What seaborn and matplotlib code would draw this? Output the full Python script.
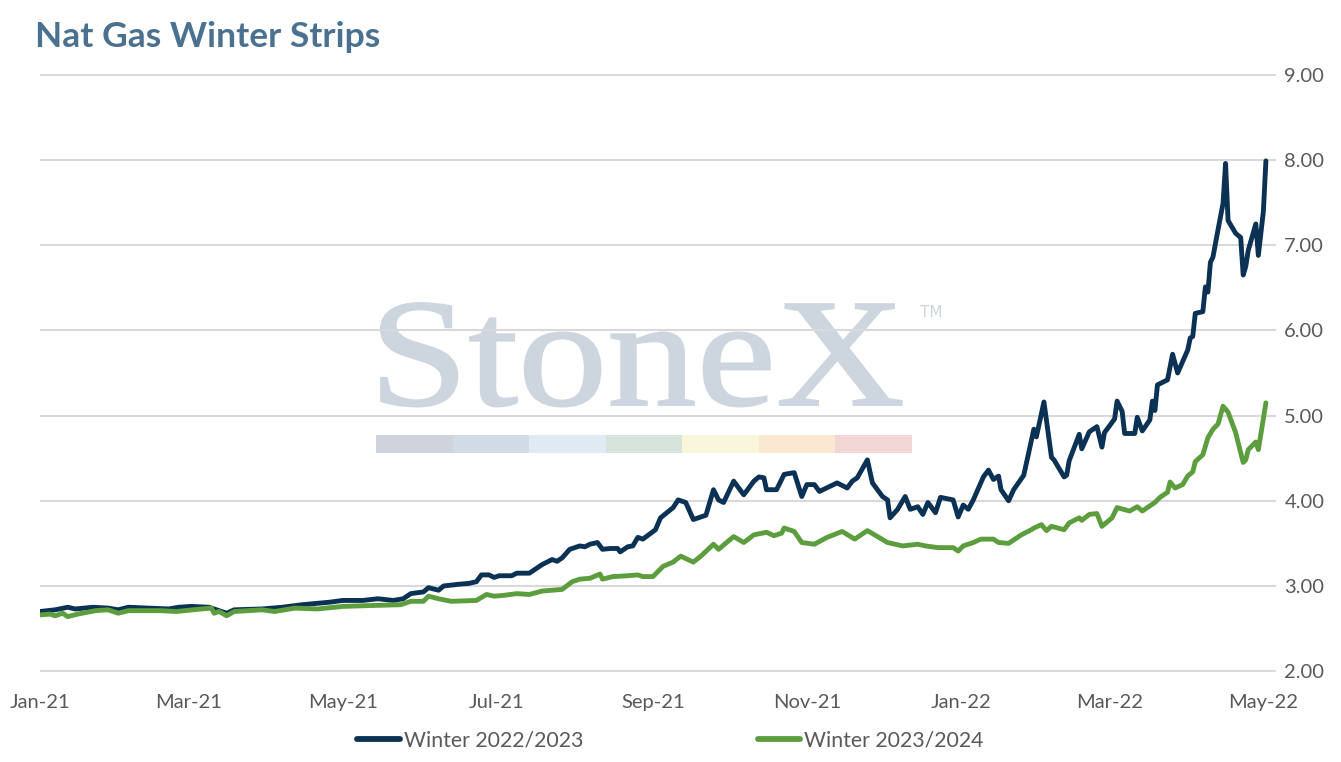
import pandas as pd
import matplotlib
matplotlib.use("Agg")
import matplotlib.pyplot as plt
import matplotlib.dates as mdates
from matplotlib.patches import Rectangle, PathPatch
from matplotlib.lines import Line2D
from matplotlib.textpath import TextPath
from matplotlib.font_manager import FontProperties
from matplotlib.transforms import Affine2D, IdentityTransform
import seaborn as sns

# Winter 2022/2023 strip
w2223_dates = [
    "2021-01-01", "2021-01-07", "2021-01-12", "2021-01-15", "2021-01-22", "2021-01-28", "2021-02-01", "2021-02-05", "2021-02-21", "2021-02-25",
    "2021-03-02", "2021-03-09", "2021-03-16", "2021-03-19", "2021-03-30", "2021-04-07", "2021-04-15", "2021-04-26", "2021-05-01", "2021-05-09",
    "2021-05-15", "2021-05-21", "2021-05-25", "2021-05-28", "2021-06-02", "2021-06-04", "2021-06-08", "2021-06-10", "2021-06-16", "2021-06-20",
    "2021-06-23", "2021-06-25", "2021-06-28", "2021-06-30", "2021-07-02", "2021-07-07", "2021-07-09", "2021-07-14", "2021-07-16", "2021-07-19",
    "2021-07-23", "2021-07-25", "2021-07-27", "2021-07-30", "2021-08-03", "2021-08-05", "2021-08-07", "2021-08-10", "2021-08-12", "2021-08-15",
    "2021-08-18", "2021-08-19", "2021-08-22", "2021-08-24", "2021-08-26", "2021-08-28", "2021-09-02", "2021-09-04", "2021-09-09", "2021-09-11",
    "2021-09-14", "2021-09-17", "2021-09-22", "2021-09-25", "2021-09-27", "2021-09-29", "2021-10-03", "2021-10-07", "2021-10-11", "2021-10-13",
    "2021-10-15", "2021-10-16", "2021-10-20", "2021-10-23", "2021-10-27", "2021-10-30", "2021-11-01", "2021-11-04", "2021-11-06", "2021-11-13",
    "2021-11-17", "2021-11-19", "2021-11-21", "2021-11-25", "2021-11-27", "2021-12-01", "2021-12-03", "2021-12-04", "2021-12-07", "2021-12-10",
    "2021-12-12", "2021-12-15", "2021-12-17", "2021-12-19", "2021-12-22", "2021-12-24", "2021-12-29", "2021-12-31", "2022-01-02", "2022-01-04",
    "2022-01-06", "2022-01-10", "2022-01-12", "2022-01-14", "2022-01-16", "2022-01-17", "2022-01-20", "2022-01-22", "2022-01-26", "2022-01-30",
    "2022-01-31", "2022-02-03", "2022-02-06", "2022-02-07", "2022-02-11", "2022-02-12", "2022-02-13", "2022-02-17", "2022-02-18", "2022-02-21",
    "2022-02-24", "2022-02-26", "2022-02-27", "2022-03-03", "2022-03-04", "2022-03-06", "2022-03-07", "2022-03-11", "2022-03-12", "2022-03-14",
    "2022-03-17", "2022-03-18", "2022-03-19", "2022-03-20", "2022-03-24", "2022-03-26", "2022-03-28", "2022-04-01", "2022-04-02", "2022-04-03",
    "2022-04-04", "2022-04-07", "2022-04-08", "2022-04-09", "2022-04-10", "2022-04-11", "2022-04-13", "2022-04-15", "2022-04-16", "2022-04-17",
    "2022-04-20", "2022-04-22", "2022-04-23", "2022-04-24", "2022-04-25", "2022-04-28", "2022-04-29", "2022-05-01", "2022-05-02",
]
w2223_values = [
    2.70, 2.72, 2.75, 2.73, 2.75, 2.74, 2.72, 2.75, 2.73, 2.75,
    2.76, 2.75, 2.68, 2.72, 2.73, 2.75, 2.78, 2.81, 2.83, 2.83,
    2.85, 2.83, 2.85, 2.91, 2.93, 2.98, 2.95, 3.00, 3.02, 3.03,
    3.05, 3.13, 3.13, 3.10, 3.12, 3.12, 3.15, 3.15, 3.19, 3.25,
    3.31, 3.29, 3.33, 3.43, 3.47, 3.46, 3.49, 3.51, 3.43, 3.44,
    3.44, 3.40, 3.46, 3.47, 3.57, 3.55, 3.66, 3.80, 3.92, 4.01,
    3.98, 3.78, 3.83, 4.13, 4.01, 3.98, 4.23, 4.07, 4.23, 4.28,
    4.27, 4.13, 4.13, 4.31, 4.33, 4.05, 4.19, 4.19, 4.11, 4.21,
    4.15, 4.23, 4.27, 4.48, 4.21, 4.05, 4.01, 3.80, 3.90, 4.05,
    3.90, 3.93, 3.84, 3.98, 3.86, 4.04, 4.01, 3.81, 3.95, 3.90,
    4.01, 4.28, 4.36, 4.25, 4.29, 4.13, 4.00, 4.13, 4.30, 4.84,
    4.75, 5.16, 4.51, 4.48, 4.28, 4.30, 4.47, 4.78, 4.61, 4.81,
    4.87, 4.63, 4.80, 4.96, 5.17, 5.05, 4.79, 4.79, 4.98, 4.82,
    4.95, 5.17, 5.06, 5.36, 5.42, 5.72, 5.50, 5.77, 5.91, 5.93,
    6.20, 6.22, 6.51, 6.45, 6.80, 6.86, 7.18, 7.49, 7.96, 7.29,
    7.14, 7.09, 6.65, 6.75, 6.94, 7.25, 6.88, 7.40, 7.99,
]

# Winter 2023/2024 strip
w2324_dates = [
    "2021-01-01", "2021-01-05", "2021-01-07", "2021-01-10", "2021-01-12", "2021-01-16", "2021-01-23", "2021-01-28", "2021-02-01", "2021-02-05",
    "2021-02-18", "2021-02-24", "2021-03-06", "2021-03-10", "2021-03-11", "2021-03-13", "2021-03-16", "2021-03-19", "2021-03-30", "2021-04-04",
    "2021-04-12", "2021-04-21", "2021-05-01", "2021-05-12", "2021-05-24", "2021-05-28", "2021-06-02", "2021-06-04", "2021-06-08", "2021-06-13",
    "2021-06-23", "2021-06-27", "2021-06-30", "2021-07-04", "2021-07-09", "2021-07-14", "2021-07-19", "2021-07-27", "2021-07-31", "2021-08-03",
    "2021-08-07", "2021-08-11", "2021-08-12", "2021-08-16", "2021-08-22", "2021-08-26", "2021-08-28", "2021-09-01", "2021-09-05", "2021-09-09",
    "2021-09-12", "2021-09-17", "2021-09-20", "2021-09-25", "2021-09-27", "2021-10-03", "2021-10-07", "2021-10-11", "2021-10-16", "2021-10-19",
    "2021-10-22", "2021-10-23", "2021-10-27", "2021-10-30", "2021-11-04", "2021-11-09", "2021-11-15", "2021-11-20", "2021-11-25", "2021-11-29",
    "2021-12-03", "2021-12-09", "2021-12-15", "2021-12-18", "2021-12-23", "2021-12-29", "2021-12-31", "2022-01-02", "2022-01-06", "2022-01-09",
    "2022-01-14", "2022-01-16", "2022-01-20", "2022-01-25", "2022-01-29", "2022-01-30", "2022-02-02", "2022-02-04", "2022-02-06", "2022-02-11",
    "2022-02-13", "2022-02-17", "2022-02-18", "2022-02-21", "2022-02-24", "2022-02-26", "2022-03-02", "2022-03-04", "2022-03-09", "2022-03-12",
    "2022-03-14", "2022-03-16", "2022-03-19", "2022-03-21", "2022-03-24", "2022-03-25", "2022-03-27", "2022-03-30", "2022-04-01", "2022-04-03",
    "2022-04-04", "2022-04-07", "2022-04-08", "2022-04-09", "2022-04-11", "2022-04-13", "2022-04-15", "2022-04-17", "2022-04-20", "2022-04-21",
    "2022-04-23", "2022-04-24", "2022-04-25", "2022-04-28", "2022-04-29", "2022-05-02",
]
w2324_values = [
    2.66, 2.67, 2.65, 2.68, 2.64, 2.67, 2.71, 2.72, 2.68, 2.71,
    2.71, 2.70, 2.73, 2.74, 2.68, 2.70, 2.65, 2.70, 2.72, 2.70,
    2.74, 2.73, 2.76, 2.77, 2.78, 2.82, 2.82, 2.88, 2.85, 2.82,
    2.83, 2.90, 2.88, 2.89, 2.91, 2.90, 2.94, 2.96, 3.05, 3.08,
    3.09, 3.14, 3.08, 3.11, 3.12, 3.13, 3.11, 3.11, 3.23, 3.28,
    3.35, 3.28, 3.35, 3.49, 3.43, 3.58, 3.51, 3.60, 3.63, 3.59,
    3.62, 3.68, 3.64, 3.51, 3.49, 3.57, 3.64, 3.55, 3.65, 3.58,
    3.51, 3.47, 3.49, 3.47, 3.45, 3.45, 3.41, 3.47, 3.51, 3.55,
    3.55, 3.51, 3.50, 3.60, 3.66, 3.68, 3.72, 3.65, 3.70, 3.66,
    3.74, 3.80, 3.77, 3.84, 3.85, 3.70, 3.80, 3.92, 3.88, 3.93,
    3.88, 3.92, 3.98, 4.04, 4.10, 4.22, 4.15, 4.19, 4.29, 4.34,
    4.46, 4.54, 4.64, 4.74, 4.84, 4.90, 5.11, 5.04, 4.80, 4.68,
    4.45, 4.48, 4.60, 4.69, 4.60, 5.15,
]

series_names = ["Winter 2022/2023", "Winter 2023/2024"]
series_colors = ["#0b3254", "#5c9e3d"]
y_ticks = [2, 3, 4, 5, 6, 7, 8, 9]
band_colors = ["#cfd4dc", "#d1dbe7", "#dfeaf3", "#d5e3da", "#f9f6dc", "#fae8d0", "#f2d6d6"]

df = pd.concat([
    pd.DataFrame({"date": pd.to_datetime(w2223_dates), "value": w2223_values, "series": series_names[0]}),
    pd.DataFrame({"date": pd.to_datetime(w2324_dates), "value": w2324_values, "series": series_names[1]}),
])

sns.set_style("white")
plt.rcParams["font.family"] = ["Lato", "DejaVu Sans"]

fig = plt.figure(figsize=(13.41, 7.62), dpi=100)
ax = fig.add_axes([40 / 1341, 1 - 672 / 762, 1236 / 1341, 598 / 762])
ax.patch.set_alpha(0)

# watermark: serif logo, stretched a little wider than the stock font
wm = "#cdd5df"
logo = TextPath((0, 0), "StoneX", size=154, prop=FontProperties(family="Liberation Serif"))
logo_tf = Affine2D().scale(1.16, 1.0).translate(369, 762 - 405) + IdentityTransform()
ax.add_artist(PathPatch(logo, transform=logo_tf, facecolor=wm, edgecolor=wm, linewidth=1.4, zorder=0.8))
ax.text(0.712, 0.613, "TM", transform=ax.transAxes, ha="left", va="top",
        fontsize=11, family="DejaVu Sans", color=wm, zorder=0.8)
seg_w = 0.4337 / len(band_colors)
for i, c in enumerate(band_colors):
    ax.add_patch(Rectangle((0.2718 + i * seg_w, 0.3662), seg_w, 0.0301, transform=ax.transAxes,
                           facecolor=c, edgecolor="none", zorder=0.8))

sns.lineplot(data=df, x="date", y="value", hue="series", palette=series_colors,
             linewidth=3.5, ax=ax, legend=False, zorder=3)

ax.set_ylim(1.99, 9.01)
ax.set_xlim(pd.Timestamp("2021-01-01"), pd.Timestamp("2022-05-06"))
ax.set_yticks(y_ticks)
ax.yaxis.set_major_formatter(matplotlib.ticker.FormatStrFormatter("%.2f"))
ax.yaxis.tick_right()
ax.xaxis.set_major_locator(mdates.MonthLocator(bymonth=[1, 3, 5, 7, 9, 11]))
ax.xaxis.set_major_formatter(mdates.DateFormatter("%b-%y"))
ax.grid(axis="y", color="#d9d9d9", linewidth=1.5)
ax.grid(axis="x", visible=False)
ax.set_axisbelow("line")
ax.set_xlabel("")
ax.set_ylabel("")
for s in ax.spines.values():
    s.set_visible(False)
ax.tick_params(axis="both", length=0, labelsize=14.5, labelcolor="#595959")
ax.tick_params(axis="x", pad=16)
ax.tick_params(axis="y", pad=6)

fig.text(35 / 1341, 1 - 47 / 762, "Nat Gas Winter Strips", fontsize=25.5, fontweight="bold",
         color="#4b7190", va="baseline", ha="left")

handles = [Line2D([0], [0], color=c, linewidth=4.2, solid_capstyle="round") for c in series_colors]
fig.legend(handles, series_names, loc="center", bbox_to_anchor=(0.5, 0.028), ncol=2,
           frameon=False, fontsize=15.3, labelcolor="#595959", handlelength=2.0,
           handletextpad=0.2, columnspacing=8.2)

fig.savefig("out.png", dpi=100)
